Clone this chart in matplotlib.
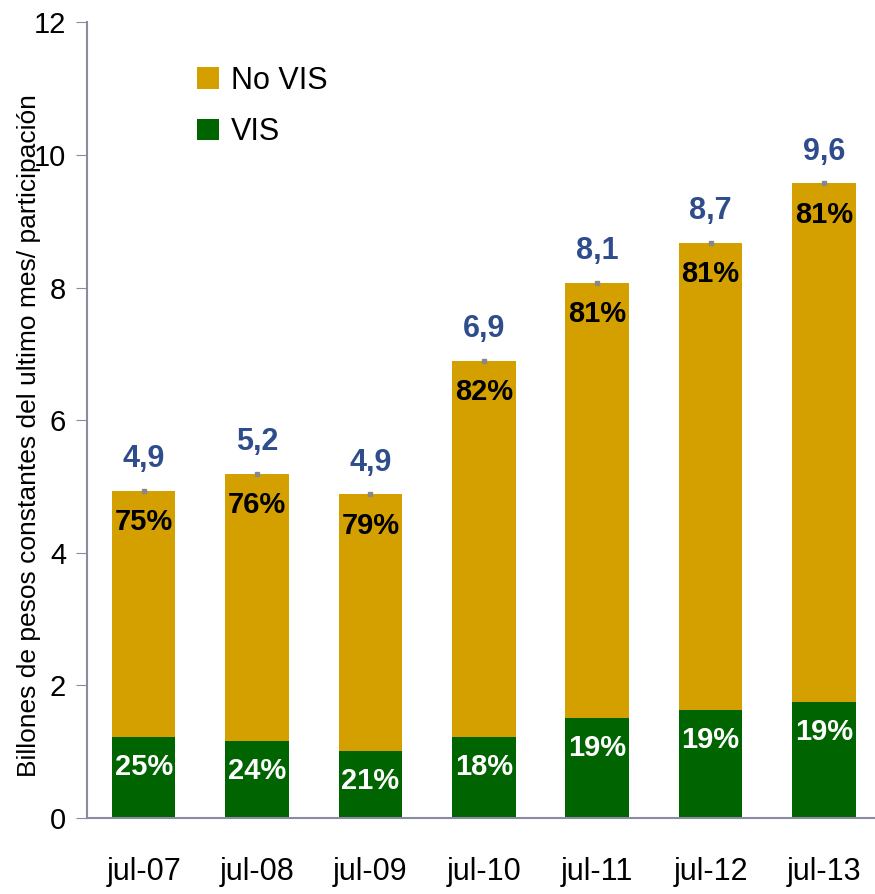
import matplotlib
matplotlib.use('Agg')
import numpy as np
import matplotlib.pyplot as plt

# Data
categories = ['jul-07', 'jul-08', 'jul-09', 'jul-10', 'jul-11', 'jul-12', 'jul-13']
vis = [1.22, 1.16, 1.01, 1.22, 1.51, 1.63, 1.75]
totals = [4.93, 5.19, 4.88, 6.90, 8.07, 8.67, 9.57]
total_labels = ['4,9', '5,2', '4,9', '6,9', '8,1', '8,7', '9,6']
no_vis_pct = ['75%', '76%', '79%', '82%', '81%', '81%', '81%']
vis_pct = ['25%', '24%', '21%', '18%', '19%', '19%', '19%']
no_vis = [t - v for t, v in zip(totals, vis)]

gold = '#D4A000'
green = '#006400'
blue = '#2F4D8C'
axis_col = '#8A8AA0'

plt.rcParams['font.family'] = ['Liberation Sans', 'DejaVu Sans']

fig = plt.figure(figsize=(8.75, 8.94), dpi=100)
ax = fig.add_axes([0.0994, 0.085, 0.9006, 0.89])

x = np.arange(len(categories))
width = 0.56
ax.bar(x, vis, width, color=green, label='VIS', zorder=2)
ax.bar(x, no_vis, width, bottom=vis, color=gold, label='No VIS', zorder=2)
ax.plot(x, totals, linestyle='none', marker='s', markersize=3,
        color='#888888', zorder=3)

# value labels: total above, shares inside each segment
for i in range(len(categories)):
    ax.text(x[i], totals[i] + 0.48, total_labels[i], ha='center', va='center',
            fontsize=22, fontweight='bold', color=blue)
    ax.text(x[i], totals[i] - 0.47, no_vis_pct[i], ha='center', va='center',
            fontsize=21, fontweight='bold', color='black')
    ax.text(x[i], vis[i] - 0.45, vis_pct[i], ha='center', va='center',
            fontsize=21, fontweight='bold', color='white')

ax.set_xlim(-0.5, 6.45)
ax.set_ylim(0, 12)
ax.set_yticks(np.arange(0, 13, 2))
ax.set_xticks(x)
ax.set_xticklabels(categories)
ax.tick_params(axis='y', labelsize=21, length=8, color=axis_col, pad=7)
ax.tick_params(axis='x', labelsize=22, length=0, pad=28)

ax.spines['top'].set_visible(False)
ax.spines['right'].set_visible(False)
ax.spines['left'].set_color(axis_col)
ax.spines['bottom'].set_color(axis_col)
ax.spines['left'].set_linewidth(1.5)
ax.spines['bottom'].set_linewidth(1.5)

ax.set_ylabel('Billones de pesos constantes del ultimo mes/ participación',
              fontsize=19)
ax.yaxis.set_label_coords(-0.058, 0.481)

handles, labels = ax.get_legend_handles_labels()
ax.legend(handles[::-1], labels[::-1], loc='upper left',
          bbox_to_anchor=(0.105, 0.98), frameon=False, fontsize=22,
          handlelength=0.7, handleheight=0.7, handletextpad=0.4,
          labelspacing=0.7)

fig.savefig('out.png', dpi=100)
